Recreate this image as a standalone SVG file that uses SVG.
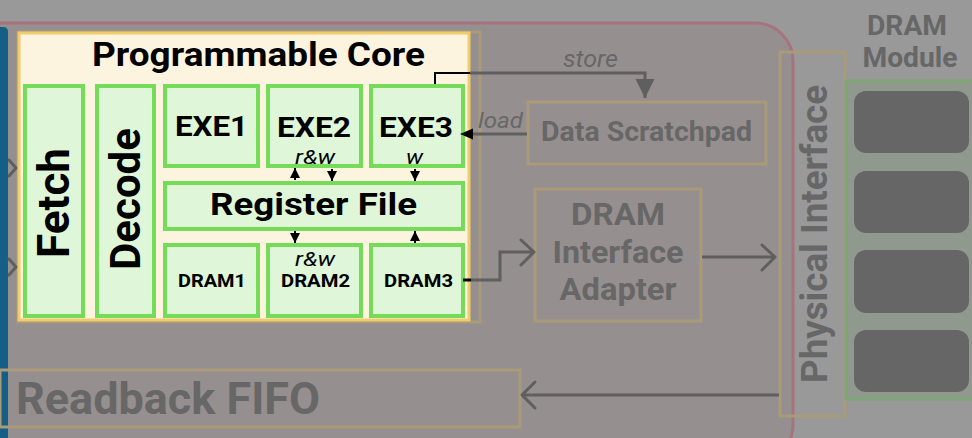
<svg xmlns="http://www.w3.org/2000/svg" width="972" height="438" viewBox="0 0 972 438">
<defs>
<style>
.dimbox{fill:none;stroke:#a99b7a;stroke-width:3}
.dimtxt{font-family:Roboto,"Liberation Sans",sans-serif;font-weight:bold;fill:#676767}
.g{fill:#dff7d8;stroke:#74dc58;stroke-width:4}
.bt{font-family:Roboto,"Liberation Sans",sans-serif;font-weight:bold;fill:#000}
.it{font-family:Roboto,"Liberation Sans",sans-serif;font-style:italic;fill:#000}
.dit{font-family:Roboto,"Liberation Sans",sans-serif;font-style:italic;fill:#676767}
.dimline{fill:none;stroke:#5f5f5f;stroke-width:3}
.blk{fill:none;stroke:#000;stroke-width:2}
.chev{fill:none;stroke:#5f5f5f;stroke-width:3;stroke-linecap:round;stroke-linejoin:round}
.mem{fill:#666666}
</style>
<marker id="ah" viewBox="0 0 10 10" refX="10" refY="5" markerWidth="5" markerHeight="5" orient="auto"><path d="M0,0 L10,5 L0,10 z" fill="#000"/></marker>
<marker id="ahg" viewBox="0 0 10 10" refX="10" refY="5" markerWidth="6.5" markerHeight="6.5" orient="auto"><path d="M0,0 L10,5 L0,10 z" fill="#5f5f5f"/></marker>
</defs>
<rect x="0" y="0" width="972" height="438" fill="#999999"/>
<rect id="region" x="-40" y="23" width="833" height="440" rx="38" fill="#968f8f" stroke="#a5747f" stroke-width="3"/>
<path id="bluebar" d="M0,27 L3,27 Q8,27 8,32 L8,438 L0,438 z" fill="#155f86"/>

<g id="core-shadow"><rect x="18" y="32" width="462" height="290" class="dimbox"/></g>

<g id="core">
<rect x="19" y="33" width="450" height="287" fill="#fdf4e0" stroke="#f0cd6a" stroke-width="3"/>
<text x="92" y="66" class="bt" font-size="33" textLength="333" lengthAdjust="spacingAndGlyphs">Programmable Core</text>
</g>
<g id="fetch"><rect x="25" y="86" width="58" height="230" class="g"/>
<text transform="translate(69,203) rotate(-90)" class="bt" font-size="44" text-anchor="middle">Fetch</text></g>
<g id="decode"><rect x="97" y="86" width="57" height="230" class="g"/>
<text transform="translate(140,199) rotate(-90)" class="bt" font-size="42" text-anchor="middle">Decode</text></g>
<g id="exe1"><rect x="165" y="86" width="93" height="80" class="g"/>
<text x="175" y="136" class="bt" font-size="28" textLength="73" lengthAdjust="spacingAndGlyphs">EXE1</text></g>
<g id="exe2"><rect x="268" y="86" width="93" height="80" class="g"/>
<text x="277" y="137" class="bt" font-size="28" textLength="74" lengthAdjust="spacingAndGlyphs">EXE2</text>
<text x="295" y="164" class="it" font-size="20" textLength="40" lengthAdjust="spacingAndGlyphs">r&amp;w</text></g>
<g id="exe3"><rect x="371" y="86" width="92" height="80" class="g"/>
<text x="379" y="137" class="bt" font-size="28" textLength="74" lengthAdjust="spacingAndGlyphs">EXE3</text>
<text x="406" y="164" class="it" font-size="20" textLength="17" lengthAdjust="spacingAndGlyphs">w</text></g>
<g id="regfile"><rect x="165" y="183" width="298" height="46" class="g"/>
<text x="210" y="215" class="bt" font-size="31" textLength="207" lengthAdjust="spacingAndGlyphs">Register File</text></g>
<g id="dram1"><rect x="165" y="245" width="93" height="71" class="g"/>
<text x="178" y="287" class="bt" font-size="19" textLength="68" lengthAdjust="spacingAndGlyphs">DRAM1</text></g>
<g id="dram2"><rect x="268" y="245" width="93" height="71" class="g"/>
<text x="295" y="266" class="it" font-size="20" textLength="40" lengthAdjust="spacingAndGlyphs">r&amp;w</text>
<text x="281" y="287" class="bt" font-size="19" textLength="69" lengthAdjust="spacingAndGlyphs">DRAM2</text></g>
<g id="dram3"><rect x="371" y="245" width="92" height="71" class="g"/>
<text x="384" y="287" class="bt" font-size="19" textLength="69" lengthAdjust="spacingAndGlyphs">DRAM3</text></g>

<g id="scratchpad"><rect x="528" y="102" width="238" height="62" class="dimbox"/>
<text x="541" y="141" class="dimtxt" font-size="28" textLength="211" lengthAdjust="spacingAndGlyphs">Data Scratchpad</text></g>
<g id="adapter"><rect x="535" y="189" width="166" height="132" class="dimbox"/>
<text x="618" y="225" class="dimtxt" font-size="31" text-anchor="middle" textLength="94" lengthAdjust="spacingAndGlyphs">DRAM</text>
<text x="618" y="263" class="dimtxt" font-size="31" text-anchor="middle" textLength="131" lengthAdjust="spacingAndGlyphs">Interface</text>
<text x="618" y="300" class="dimtxt" font-size="31" text-anchor="middle" textLength="117" lengthAdjust="spacingAndGlyphs">Adapter</text></g>
<g id="phy"><rect x="780" y="52" width="65" height="364" fill="#999999" class="dimbox"/>
<text transform="translate(827,234) rotate(-90)" class="dimtxt" font-size="36" text-anchor="middle" textLength="298" lengthAdjust="spacingAndGlyphs">Physical Interface</text></g>
<g id="module">
<rect x="846" y="81" width="140" height="318" fill="#8f998d" stroke="#7fa676" stroke-width="3"/>
<text x="907" y="35" class="dimtxt" font-size="28" text-anchor="middle" textLength="80" lengthAdjust="spacingAndGlyphs">DRAM</text>
<text x="910" y="67" class="dimtxt" font-size="28" text-anchor="middle" textLength="95" lengthAdjust="spacingAndGlyphs">Module</text>
<rect x="854" y="91" width="115" height="62" rx="12" class="mem"/>
<rect x="854" y="171" width="115" height="62" rx="12" class="mem"/>
<rect x="854" y="250" width="115" height="63" rx="12" class="mem"/>
<rect x="854" y="330" width="115" height="62" rx="12" class="mem"/>
</g>
<g id="readback"><rect x="0" y="370" width="520" height="57" class="dimbox"/>
<text x="16" y="414" class="dimtxt" font-size="44" textLength="304" lengthAdjust="spacingAndGlyphs">Readback FIFO</text></g>

<g id="connectors">
<path d="M435,84 L435,73 L470,73" class="blk"/>
<path d="M470,73 L645,73 L645,98" class="dimline" stroke-width="2" marker-end="url(#ahg)"/>
<text x="563" y="67" class="dit" font-size="23" textLength="55" lengthAdjust="spacingAndGlyphs">store</text>
<path d="M527,134 L472,134" class="dimline" stroke-width="3"/>
<path d="M460,134 L473,128.5 L473,139.5 z" fill="#000"/>
<text x="478" y="128" class="dit" font-size="22" textLength="45" lengthAdjust="spacingAndGlyphs">load</text>
<path d="M295,180 L295,168" class="blk" marker-end="url(#ah)"/>
<path d="M332,169 L332,181" class="blk" marker-end="url(#ah)"/>
<path d="M415,169 L415,181" class="blk" marker-end="url(#ah)"/>
<path d="M295,231 L295,243" class="blk" marker-end="url(#ah)"/>
<path d="M415,243 L415,231" class="blk" marker-end="url(#ah)"/>
<path d="M463,280 L471,280" stroke="#000" stroke-width="3"/>
<path d="M471,280 L500,280 L500,252 L533,252" class="dimline"/>
<path d="M521,240 L534,252 L521,265" class="chev"/>
<path d="M702,257 L775,257" class="dimline"/>
<path d="M762,245 L775,257 L762,270" class="chev"/>
<path d="M779,395 L522,395" class="dimline"/>
<path d="M535,382 L522,395 L535,408" class="chev"/>
<path d="M9,160 L16,168 L9,176" class="chev"/>
<path d="M9,259 L16,267 L9,275" class="chev"/>
</g>
</svg>
